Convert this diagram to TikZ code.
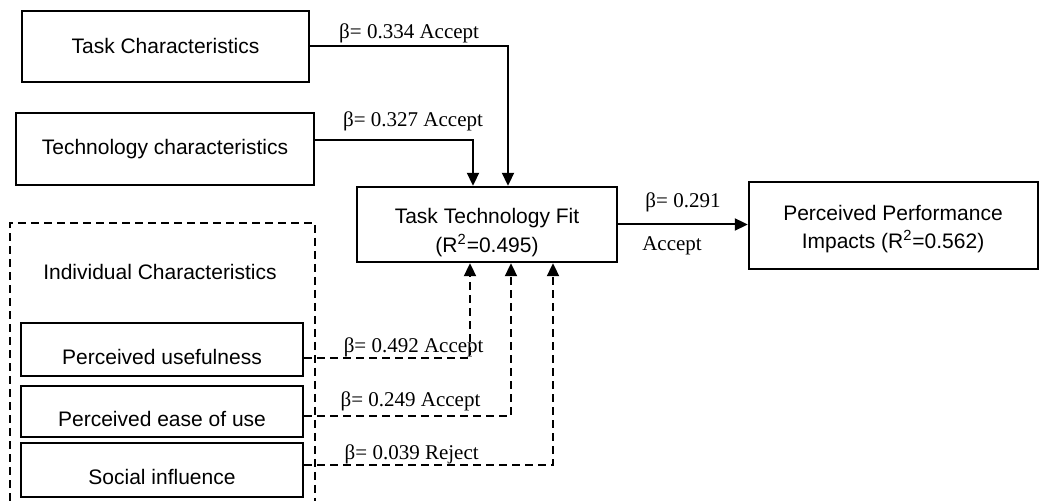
\documentclass[tikz,border=0pt]{standalone}
\usepackage{fontspec}
\setmainfont{Liberation Sans}
\newfontfamily\betafont{Liberation Serif}
\usetikzlibrary{arrows.meta,calc}

\tikzset{every picture/.style={line width=1.2pt}}
\tikzset{box text/.style={font=\fontsize{10.5}{14}\selectfont, align=center, inner sep=0pt}}
\tikzset{var box/.style={draw, rectangle, box text}}
\tikzset{low text/.style={text height=15pt, text depth=0.4pt}}
\tikzset{beta label/.style={font=\betafont\fontsize{10.5}{12}\selectfont, inner sep=1pt}}
\tikzset{path arrow/.style={line width=1pt, -{Triangle[width=6pt,length=6.5pt]}}}
\tikzset{weak arrow/.style={path arrow, dash pattern=on 4pt off 2.5pt}}
\tikzset{group line/.style={line width=1.3pt, dash pattern=on 4pt off 2.5pt}}

\begin{document}
\begin{tikzpicture}[x=0.5pt,y=-0.5pt]
        \useasboundingbox (0,0) rectangle (1039,501);
        % boxes
        \node[var box, minimum width=143.5pt, minimum height=35.5pt] (tc) at (165.5,46.5) {Task Characteristics};
        \node[var box, minimum width=149pt, minimum height=36pt] (tech) at (165,149) {Technology characteristics};
        \node[var box, minimum width=130pt, minimum height=37.5pt] (ttf) at (487,224.5) {};
        \node[box text, font=\fontsize{10.5}{14.5}\selectfont] (ttf text) at (487,233) {Task Technology Fit\\(R\textsuperscript{2}=0.495)};
        \node[var box, minimum width=144.5pt, minimum height=43.5pt] (ppi) at (893.5,225.5) {};
        \node[box text, font=\fontsize{10.5}{14}\selectfont] (ppi text) at (893,229) {Perceived Performance\\Impacts (R\textsuperscript{2}=0.562)};
        % individual characteristics
        \draw[group line] (10,501) |- (315,223) -- (315,501);
        \node[box text] (ic) at (160,272) {Individual Characteristics};
        \node[var box, low text, minimum width=141pt, minimum height=26.5pt] (pu) at (162,349.5) {Perceived usefulness};
        \node[var box, low text, minimum width=141pt, minimum height=25.5pt] (peou) at (162,411.5) {Perceived ease of use};
        \node[var box, low text, minimum width=141pt, minimum height=27pt] (si) at (162,470) {Social influence};
        % paths
        \draw[path arrow] (tc.east) -| node[beta label, pos=.25, above=0.4pt] (b tc) {β= 0.334 Accept} ($(ttf.north)+(21,0)$);
        \draw[path arrow] ($(tech.east)+(0,-9)$) -| node[beta label, pos=.31, above=3pt] (b tech) {β= 0.327 Accept} ($(ttf.north)+(-14,0)$);
        \draw[path arrow] (ttf.east) -- node[beta label, above=5pt] (b ttf) {β= 0.291} node[beta label, below=4.5pt, xshift=-5.5pt] (acc ttf) {Accept} (ttf.east -| ppi.west);
        \draw[weak arrow] ($(pu.east)+(0,8.5)$) -| node[beta label, pos=.33, above=-0.8pt] (b pu) {β= 0.492 Accept} ($(ttf.south)+(-17,0)$);
        \draw[weak arrow] ($(peou.east)+(0,4.5)$) -| node[beta label, pos=.257, above=1.2pt] (b peou) {β= 0.249 Accept} ($(ttf.south)+(24,0)$);
        \draw[weak arrow] ($(si.east)+(0,-5)$) -| node[beta label, pos=.216, above=-0.8pt] (b si) {β= 0.039 Reject} ($(ttf.south)+(66,0)$);
    \end{tikzpicture}
\end{document}
